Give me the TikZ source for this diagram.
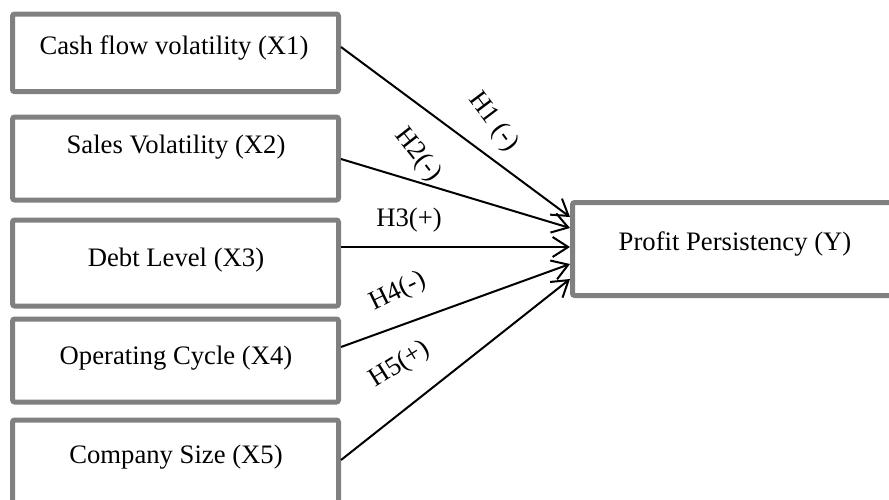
\documentclass[tikz,border=0pt]{standalone}
\usepackage{fontspec}
\setmainfont{Liberation Serif}
\usetikzlibrary{arrows.meta,fit}
\definecolor{boxgray}{HTML}{808080}
\tikzset{
 box/.style={draw=boxgray, line width=2.25pt, rounded corners=1pt, inner sep=0pt, fill=white},
 txt/.style={anchor=base, inner sep=0pt, font=\fontsize{12}{14}\selectfont},
 lbl/.style={inner sep=0pt, font=\fontsize{12}{14}\selectfont},
 arr/.style={line width=0.9pt, -{Straight Barb[length=7pt,width=9pt]}}
}
\begin{document}
\begin{tikzpicture}[x=0.45pt,y=-0.45pt]
\useasboundingbox (0,0) rectangle (889,499);
\clip (0,0) rectangle (889,499);
\node[box, fit={(12.5,14) (338.5,91.7)}] (b1) {};
\node[box, fit={(12.5,117) (338.5,200)}] (b2) {};
\node[box, fit={(12.5,220) (338.5,306)}] (b3) {};
\node[box, fit={(12.5,319) (338.5,402)}] (b4) {};
\node[box, fit={(12.5,420) (338.5,530)}] (b5) {};
\node[box, fit={(572.5,202.5) (905,295.5)}] (y) {};

\node[txt] (t1) at (174,54.3) {Cash flow volatility (X1)};
\node[txt] (t2) at (176,153.3) {Sales Volatility (X2)};
\node[txt] (t3) at (176,266.7) {Debt Level (X3)};
\node[txt] (t4) at (176,364.3) {Operating Cycle (X4)};
\node[txt] (t5) at (176,463.3) {Company Size (X5)};
\node[txt] (ty) at (735,250) {Profit Persistency (Y)};

\draw[arr] (b1.east |- 0,47) -- (y.west |- 0,217);
\draw[arr] (b2.east |- 0,159) -- (y.west |- 0,228);
\draw[arr] (b3.east |- 0,247) -- (y.west |- 0,247);
\draw[arr] (b4.east |- 0,347) -- (y.west |- 0,264);
\draw[arr] (b5.east |- 0,460) -- (y.west |- 0,279);

\node[lbl, rotate=-53] (h1) at (493,122) {H1 (-)};
\node[lbl, rotate=-52] (h2) at (418,155) {H2(-)};
\node[lbl, anchor=base] (h3) at (409,226.7) {H3(+)};
\node[lbl, rotate=26] (h4) at (398,292) {H4(-)};
\node[lbl, rotate=32] (h5) at (400,365) {H5(+)};
\end{tikzpicture}
\end{document}
